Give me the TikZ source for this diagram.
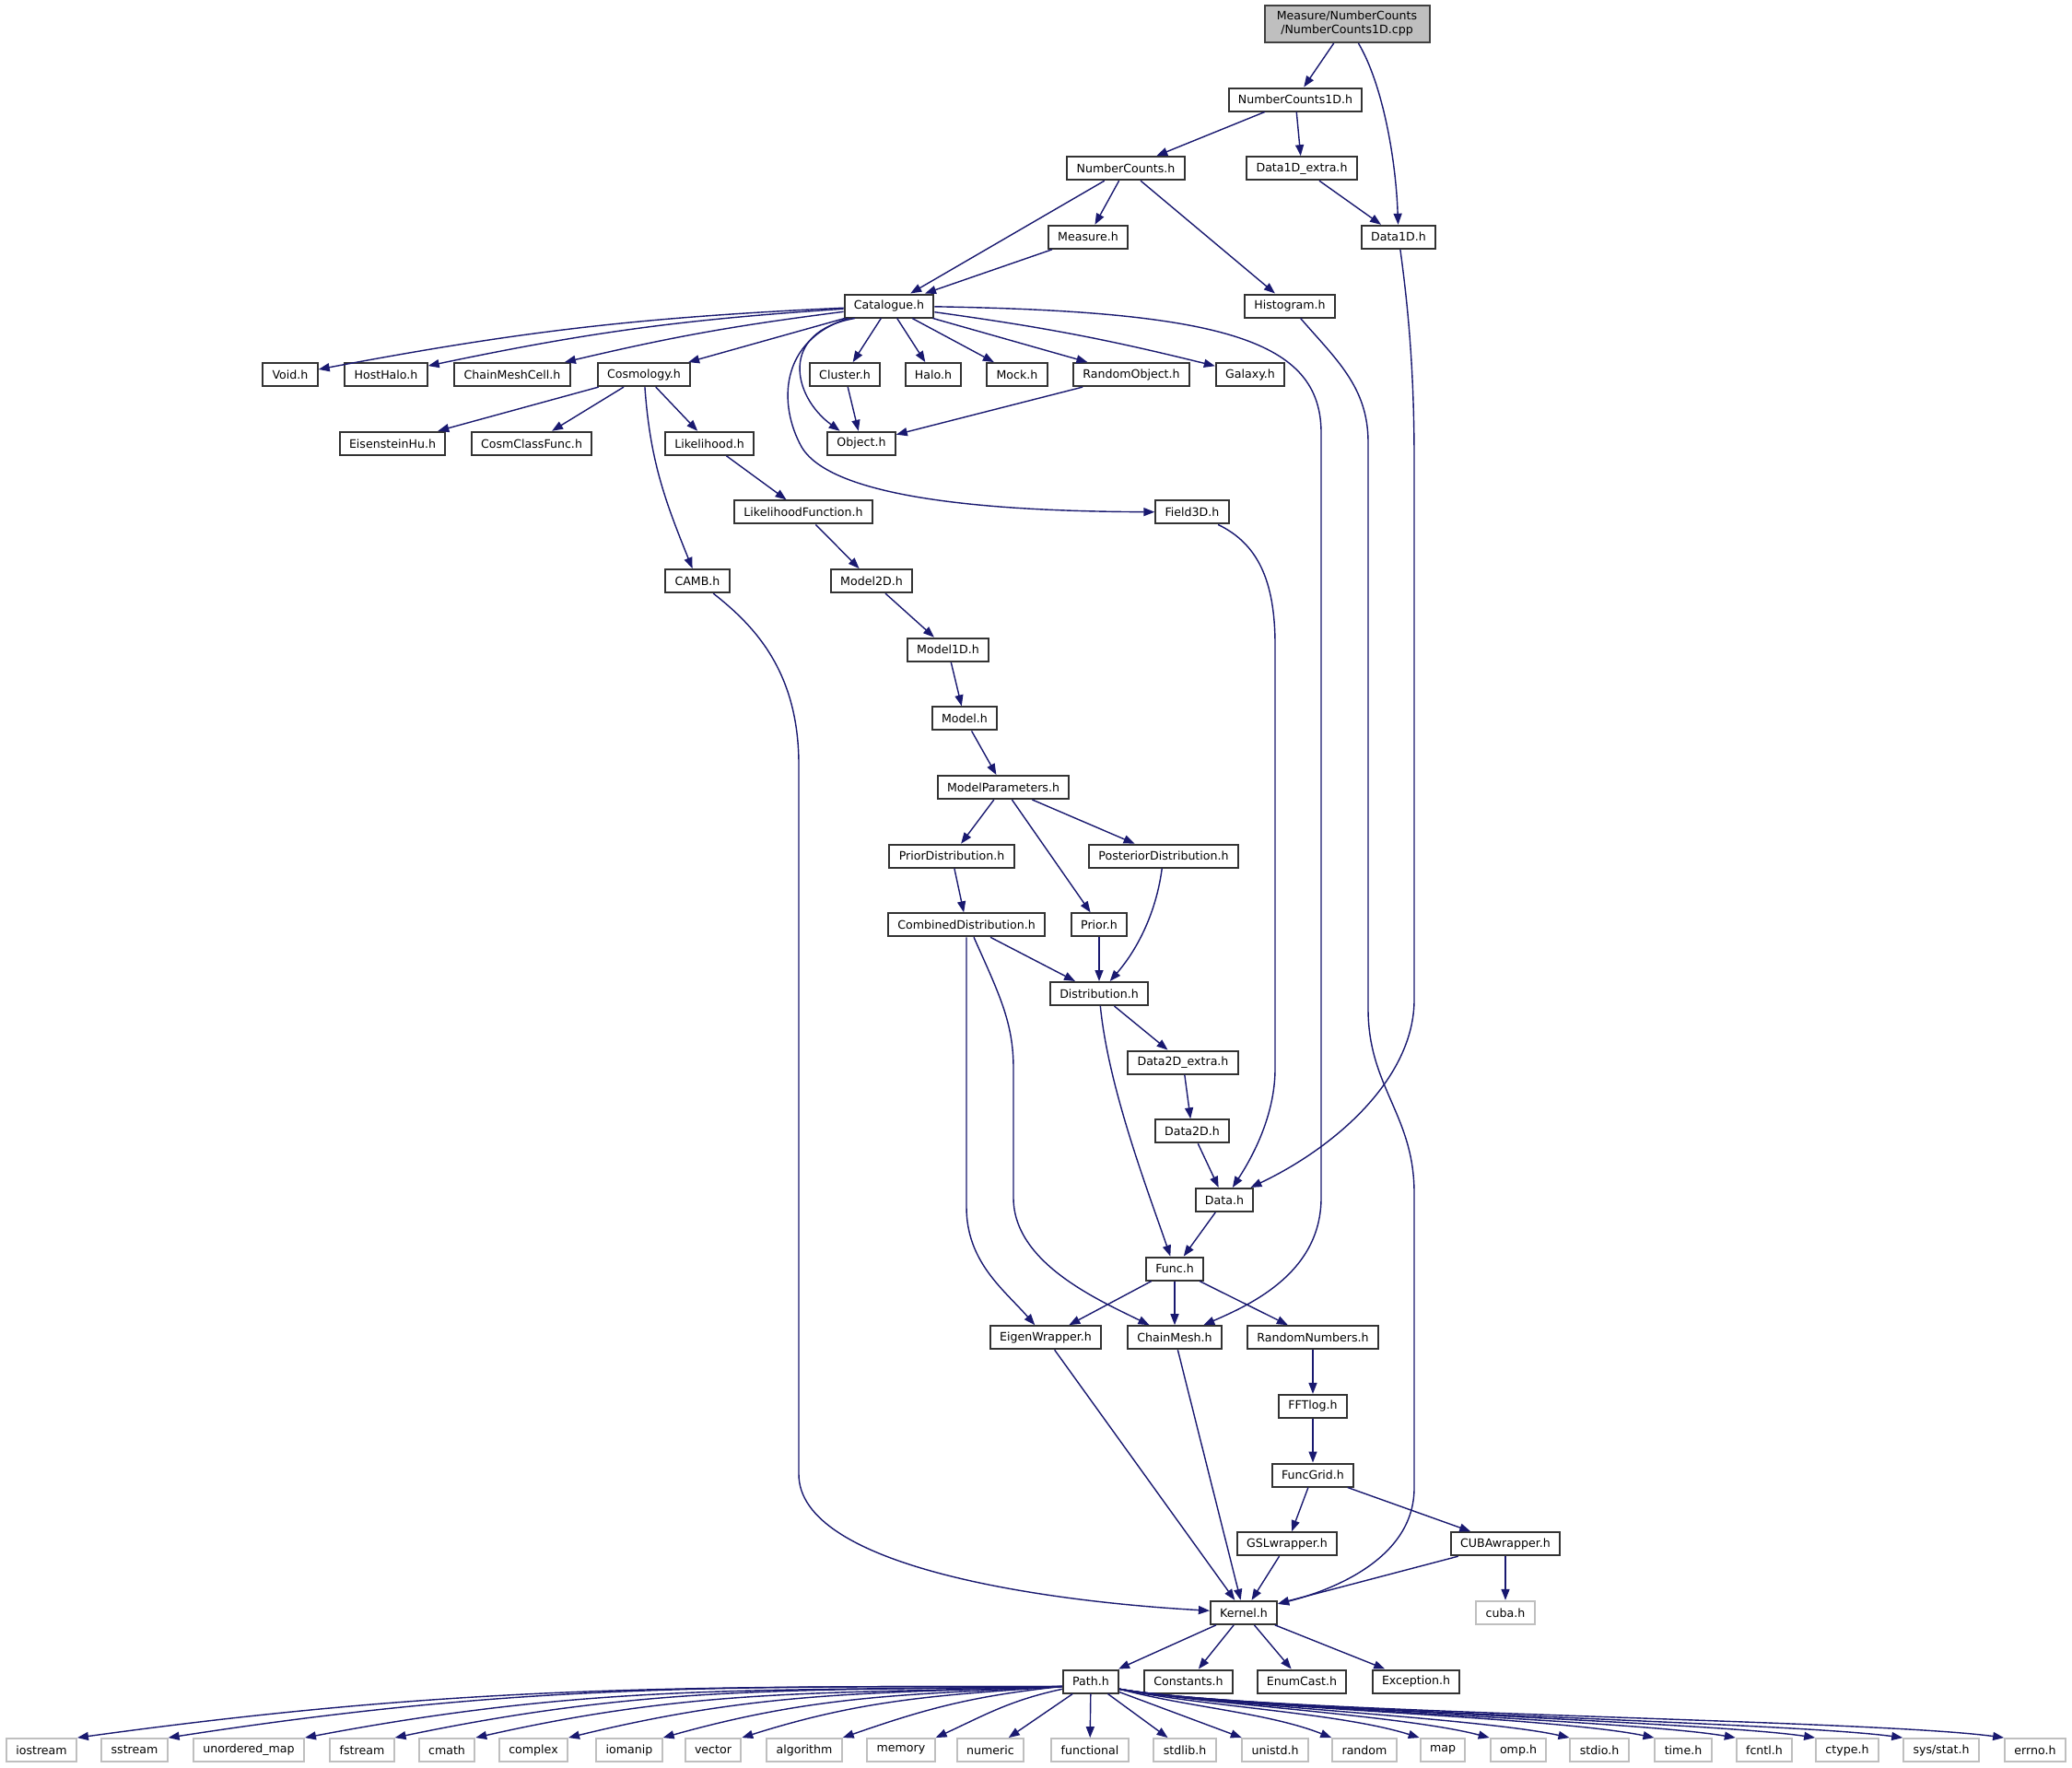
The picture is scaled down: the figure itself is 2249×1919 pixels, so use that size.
\documentclass[tikz,border=0pt]{standalone}
\usepackage{fontspec}
\setmainfont{DejaVu Sans}
\usepackage{tikz}
\usetikzlibrary{arrows.meta}

\definecolor{EdgeBlue}{HTML}{191970}
\definecolor{SysGray}{HTML}{BFBFBF}

\begin{document}
\begin{tikzpicture}[x=1pt,y=1pt,>={Triangle[length=12pt,width=9pt]}]
		\tikzstyle{DepSty}=[->,color=EdgeBlue,line width=1.4pt]

		\edef\sizebox{25pt}
		\tikzstyle{incbox}=[draw=black!80,
								  line width=2pt,
								  fill=white,
								  minimum height=\sizebox,
								  inner xsep=10.3pt,
								  inner ysep=0pt,
								  font=\fontsize{12.6}{15}\selectfont]
		\tikzstyle{sysbox}=[incbox,draw=SysGray]
		\tikzstyle{srcbox}=[incbox,fill=SysGray,draw=black!75,
								  minimum height=40pt,
								  minimum width=179pt,
								  align=center]

\useasboundingbox (0,0) rectangle (2249,-1919);
\fill[white] (0,0) rectangle (2249,-1919);

% Top level
	\node [srcbox] (src) at (1462,-26) {Measure/NumberCounts\\/NumberCounts1D.cpp};
	\node [incbox] (numcounts1d) at (1406,-108) {NumberCounts1D.h};
	\node [incbox] (numcounts) at (1222,-182.7) {NumberCounts.h};
	\node [incbox] (data1dx) at (1413,-182.7) {Data1D\_extra.h};
	\node [incbox] (measure) at (1181,-257.3) {Measure.h};
	\node [incbox] (data1d) at (1518,-257.3) {Data1D.h};
	\node [incbox] (catalogue) at (965,-332) {Catalogue.h};
	\node [incbox] (histogram) at (1400,-332) {Histogram.h};

% Catalogue level
	\node [incbox] (void) at (315,-406.6) {Void.h};
	\node [incbox] (hosthalo) at (419,-406.6) {HostHalo.h};
	\node [incbox] (chainmeshcell) at (556,-406.6) {ChainMeshCell.h};
	\node [incbox] (cosmology) at (699,-406.6) {Cosmology.h};
	\node [incbox] (cluster) at (917,-406.6) {Cluster.h};
	\node [incbox] (halo) at (1013,-406.6) {Halo.h};
	\node [incbox] (mock) at (1104,-406.6) {Mock.h};
	\node [incbox] (randomobject) at (1228,-406.6) {RandomObject.h};
	\node [incbox] (galaxy) at (1357,-406.6) {Galaxy.h};

	\node [incbox] (eisensteinhu) at (426,-481.3) {EisensteinHu.h};
	\node [incbox] (cosmclassfunc) at (577,-481.3) {CosmClassFunc.h};
	\node [incbox] (likelihood) at (770,-481.3) {Likelihood.h};
	\node [incbox] (object) at (935,-481.3) {Object.h};
	\node [incbox] (likefunc) at (872,-555.9) {LikelihoodFunction.h};
	\node [incbox] (field3d) at (1294,-555.9) {Field3D.h};
	\node [incbox] (camb) at (757,-630.6) {CAMB.h};
	\node [incbox] (model2d) at (946,-630.6) {Model2D.h};
	\node [incbox] (model1d) at (1029,-705.2) {Model1D.h};
	\node [incbox] (model) at (1047,-779.9) {Model.h};

% Distribution level
	\node [incbox] (modelpar) at (1089,-854.5) {ModelParameters.h};
	\node [incbox] (priordist) at (1033,-929.2) {PriorDistribution.h};
	\node [incbox] (postdist) at (1263,-929.2) {PosteriorDistribution.h};
	\node [incbox] (combdist) at (1049,-1003.8) {CombinedDistribution.h};
	\node [incbox] (prior) at (1193,-1003.8) {Prior.h};
	\node [incbox] (distribution) at (1193,-1078.5) {Distribution.h};
	\node [incbox] (data2dx) at (1284,-1153.1) {Data2D\_extra.h};
	\node [incbox] (data2d) at (1294,-1227.8) {Data2D.h};
	\node [incbox] (data) at (1329,-1302.4) {Data.h};
	\node [incbox] (func) at (1275,-1377.1) {Func.h};
	\node [incbox] (eigen) at (1135,-1451.7) {EigenWrapper.h};
	\node [incbox] (chainmesh) at (1275,-1451.7) {ChainMesh.h};
	\node [incbox] (randnum) at (1425,-1451.7) {RandomNumbers.h};
	\node [incbox] (fftlog) at (1425,-1526.4) {FFTlog.h};
	\node [incbox] (funcgrid) at (1425,-1601) {FuncGrid.h};
	\node [incbox] (gslwrap) at (1397,-1675.7) {GSLwrapper.h};
	\node [incbox] (cubawrap) at (1634,-1675.7) {CUBAwrapper.h};

% Kernel level
	\node [incbox] (kernel) at (1350,-1750.3) {Kernel.h};
	\node [sysbox] (cubah) at (1634,-1750.3) {cuba.h};
	\node [incbox] (pathh) at (1184,-1825) {Path.h};
	\node [incbox] (constants) at (1290,-1825) {Constants.h};
	\node [incbox] (enumcast) at (1413,-1825) {EnumCast.h};
	\node [incbox] (exception) at (1537,-1825) {Exception.h};

% System headers
	\node [sysbox] (iostream) at (45,-1899.6) {iostream};
	\node [sysbox] (sstream) at (146,-1899.6) {sstream};
	\node [sysbox] (unorderedmap) at (270,-1899.6) {unordered\_map};
	\node [sysbox] (fstream) at (393,-1899.6) {fstream};
	\node [sysbox] (cmath) at (485,-1899.6) {cmath};
	\node [sysbox] (complex) at (579,-1899.6) {complex};
	\node [sysbox] (iomanip) at (683,-1899.6) {iomanip};
	\node [sysbox] (vector) at (774,-1899.6) {vector};
	\node [sysbox] (algorithm) at (873,-1899.6) {algorithm};
	\node [sysbox] (memory) at (978,-1899.6) {memory};
	\node [sysbox] (numeric) at (1075,-1899.6) {numeric};
	\node [sysbox] (functional) at (1183,-1899.6) {functional};
	\node [sysbox] (stdlib) at (1286,-1899.6) {stdlib.h};
	\node [sysbox] (unistd) at (1384,-1899.6) {unistd.h};
	\node [sysbox] (random) at (1481,-1899.6) {random};
	\node [sysbox] (map) at (1566,-1899.6) {map};
	\node [sysbox] (omph) at (1648,-1899.6) {omp.h};
	\node [sysbox] (stdio) at (1736,-1899.6) {stdio.h};
	\node [sysbox] (timeh) at (1827,-1899.6) {time.h};
	\node [sysbox] (fcntl) at (1915,-1899.6) {fcntl.h};
	\node [sysbox] (ctype) at (2005,-1899.6) {ctype.h};
	\node [sysbox] (sysstat) at (2107,-1899.6) {sys/stat.h};
	\node [sysbox] (errno) at (2209,-1899.6) {errno.h};

	\path[DepSty] (src) edge (numcounts1d);
	\path[DepSty] (numcounts1d) edge (numcounts);
	\path[DepSty] (numcounts1d) edge (data1dx);
	\path[DepSty] (numcounts) edge (catalogue);
	\path[DepSty] (numcounts) edge (measure);
	\path[DepSty] (numcounts) edge (histogram);
	\path[DepSty] (data1dx) edge (data1d);
	\path[DepSty] (measure) edge (catalogue);
	\draw[DepSty] (src) .. controls (1500,-90) and (1515,-170) .. (data1d);
	\draw[DepSty] (data1d) .. controls (1528,-330) and (1535,-400) .. (1535,-500) -- (1535,-1085)
		.. controls (1535,-1170) and (1450,-1245) .. (data);
	\draw[DepSty] (histogram) .. controls (1450,-390) and (1485,-420) .. (1485,-480) -- (1485,-1095)
		.. controls (1485,-1180) and (1535,-1210) .. (1535,-1295) -- (1535,-1615)
		.. controls (1535,-1690) and (1450,-1725) .. (kernel);

	\path[DepSty] (catalogue) edge[bend right=4] (void);
	\path[DepSty] (catalogue) edge[bend right=4] (hosthalo);
	\path[DepSty] (catalogue) edge[bend right=3] (chainmeshcell);
	\path[DepSty] (catalogue) edge (cosmology);
	\path[DepSty] (catalogue) edge (cluster);
	\path[DepSty] (catalogue) edge (halo);
	\path[DepSty] (catalogue) edge (mock);
	\path[DepSty] (catalogue) edge (randomobject);
	\path[DepSty] (catalogue) edge[bend left=3] (galaxy);
	\draw[DepSty] (catalogue.-160) .. controls (845,-360) and (860,-430) .. (object.150);
	\draw[DepSty] (catalogue.-163) .. controls (845,-370) and (845,-440) .. (870,-485)
		.. controls (905,-545) and (1100,-555) .. (field3d);
	\draw[DepSty] (catalogue) .. controls (1330,-338) and (1434,-370) .. (1434,-470) -- (1434,-1300)
		.. controls (1434,-1380) and (1360,-1415) .. (chainmesh);

	\path[DepSty] (cosmology) edge (eisensteinhu);
	\path[DepSty] (cosmology) edge (cosmclassfunc);
	\path[DepSty] (cosmology) edge (likelihood);
	\path[DepSty] (cosmology) edge[out=-86,in=112] (camb);
	\path[DepSty] (cluster) edge (object);
	\path[DepSty] (randomobject) edge (object);
	\path[DepSty] (likelihood) edge (likefunc);
	\path[DepSty] (likefunc) edge (model2d);
	\path[DepSty] (model2d) edge (model1d);
	\path[DepSty] (model1d) edge (model);
	\path[DepSty] (model) edge (modelpar);
	\draw[DepSty] (field3d) .. controls (1365,-590) and (1384,-630) .. (1384,-700) -- (1384,-1160)
		.. controls (1384,-1210) and (1360,-1255) .. (data);
	\draw[DepSty] (camb) .. controls (820,-680) and (867,-730) .. (867,-830) -- (867,-1600)
		.. controls (867,-1700) and (1130,-1738) .. (kernel);

	\path[DepSty] (modelpar) edge (priordist);
	\path[DepSty] (modelpar) edge (prior);
	\path[DepSty] (modelpar) edge (postdist);
	\path[DepSty] (priordist) edge (combdist);
	\path[DepSty] (prior) edge (distribution);
	\path[DepSty] (combdist) edge (distribution);
	\draw[DepSty] (postdist) .. controls (1255,-990) and (1235,-1030) .. (distribution);
	\draw[DepSty] (combdist.south) -- (1049,-1310) .. controls (1049,-1370) and (1090,-1400) .. (eigen);
	\draw[DepSty] ([xshift=8pt]combdist.south) .. controls (1085,-1080) and (1100,-1110) .. (1100,-1160)
		-- (1100,-1300) .. controls (1100,-1370) and (1190,-1410) .. (chainmesh);
	\path[DepSty] (distribution) edge (data2dx);
	\draw[DepSty] (distribution) .. controls (1203,-1180) and (1245,-1290) .. (func);
	\path[DepSty] (data2dx) edge (data2d);
	\path[DepSty] (data2d) edge (data);
	\path[DepSty] (data) edge (func);
	\path[DepSty] (func) edge (eigen);
	\path[DepSty] (func) edge (chainmesh);
	\path[DepSty] (func) edge (randnum);
	\path[DepSty] (randnum) edge (fftlog);
	\path[DepSty] (fftlog) edge (funcgrid);
	\path[DepSty] (funcgrid) edge (gslwrap);
	\path[DepSty] (funcgrid) edge (cubawrap);
	\path[DepSty] (eigen) edge (kernel);
	\path[DepSty] (chainmesh) edge (kernel);
	\path[DepSty] (gslwrap) edge (kernel);
	\path[DepSty] (cubawrap) edge (kernel);
	\path[DepSty] (cubawrap) edge (cubah);

	\path[DepSty] (kernel) edge (pathh);
	\path[DepSty] (kernel) edge (constants);
	\path[DepSty] (kernel) edge (enumcast);
	\path[DepSty] (kernel) edge (exception);

% Path.h to system headers
	\draw[DepSty] (pathh.190) .. controls (734,-1830.6) and (500,-1829) .. (iostream.north east);
	\draw[DepSty] (pathh.190) .. controls (772,-1830.6) and (559,-1828) .. (sstream.north east);
	\draw[DepSty] (pathh.190) .. controls (830,-1836) and (648,-1826) .. (unorderedmap.north east);
	\draw[DepSty] (pathh.190) .. controls (869,-1835.5) and (707,-1828) .. (fstream.north east);
	\draw[DepSty] (pathh.190) .. controls (903,-1839) and (760,-1831) .. (cmath.north east);
	\draw[DepSty] (pathh.190) .. controls (942,-1838) and (822,-1836) .. (complex.north east);
	\draw[DepSty] (pathh.190) .. controls (982,-1839.5) and (884,-1840) .. (iomanip.north east);
	\draw[DepSty] (pathh.190) .. controls (1015,-1840) and (935,-1845) .. (vector.north east);
	\draw[DepSty] (pathh.190) .. controls (1057,-1840.5) and (1005,-1854.5) .. (algorithm.north east);
	\draw[DepSty] (pathh.195) .. controls (1096,-1845.5) and (1068,-1862) .. (memory.north east);
	\path[DepSty] (pathh) edge (numeric);
	\path[DepSty] (pathh) edge (functional);
	\path[DepSty] (pathh) edge (stdlib);
	\path[DepSty] (pathh) edge (unistd);
	\draw[DepSty] (pathh.-15) .. controls (1287,-1852.6) and (1377,-1859) .. (random.north west);
	\draw[DepSty] (pathh.-15) .. controls (1304,-1852) and (1455,-1859) .. (map.north west);
	\draw[DepSty] (pathh.-15) .. controls (1310,-1850) and (1525,-1862) .. (omph.north west);
	\draw[DepSty] (pathh.-15) .. controls (1310.5,-1850.3) and (1610,-1865) .. (stdio.north west);
	\draw[DepSty] (pathh.-15) .. controls (1328,-1853.4) and (1683,-1863) .. (timeh.north west);
	\draw[DepSty] (pathh.-15) .. controls (1332,-1854) and (1767,-1866.5) .. (fcntl.north west);
	\draw[DepSty] (pathh.-15) .. controls (1332,-1854) and (1853,-1868.5) .. (ctype.north west);
	\draw[DepSty] (pathh.-15) .. controls (1347,-1856.7) and (1934,-1868.5) .. (sysstat.north west);
	\draw[DepSty] (pathh.-15) .. controls (1364,-1859.6) and (2026,-1866) .. (errno.north west);

\end{tikzpicture}
\end{document}
